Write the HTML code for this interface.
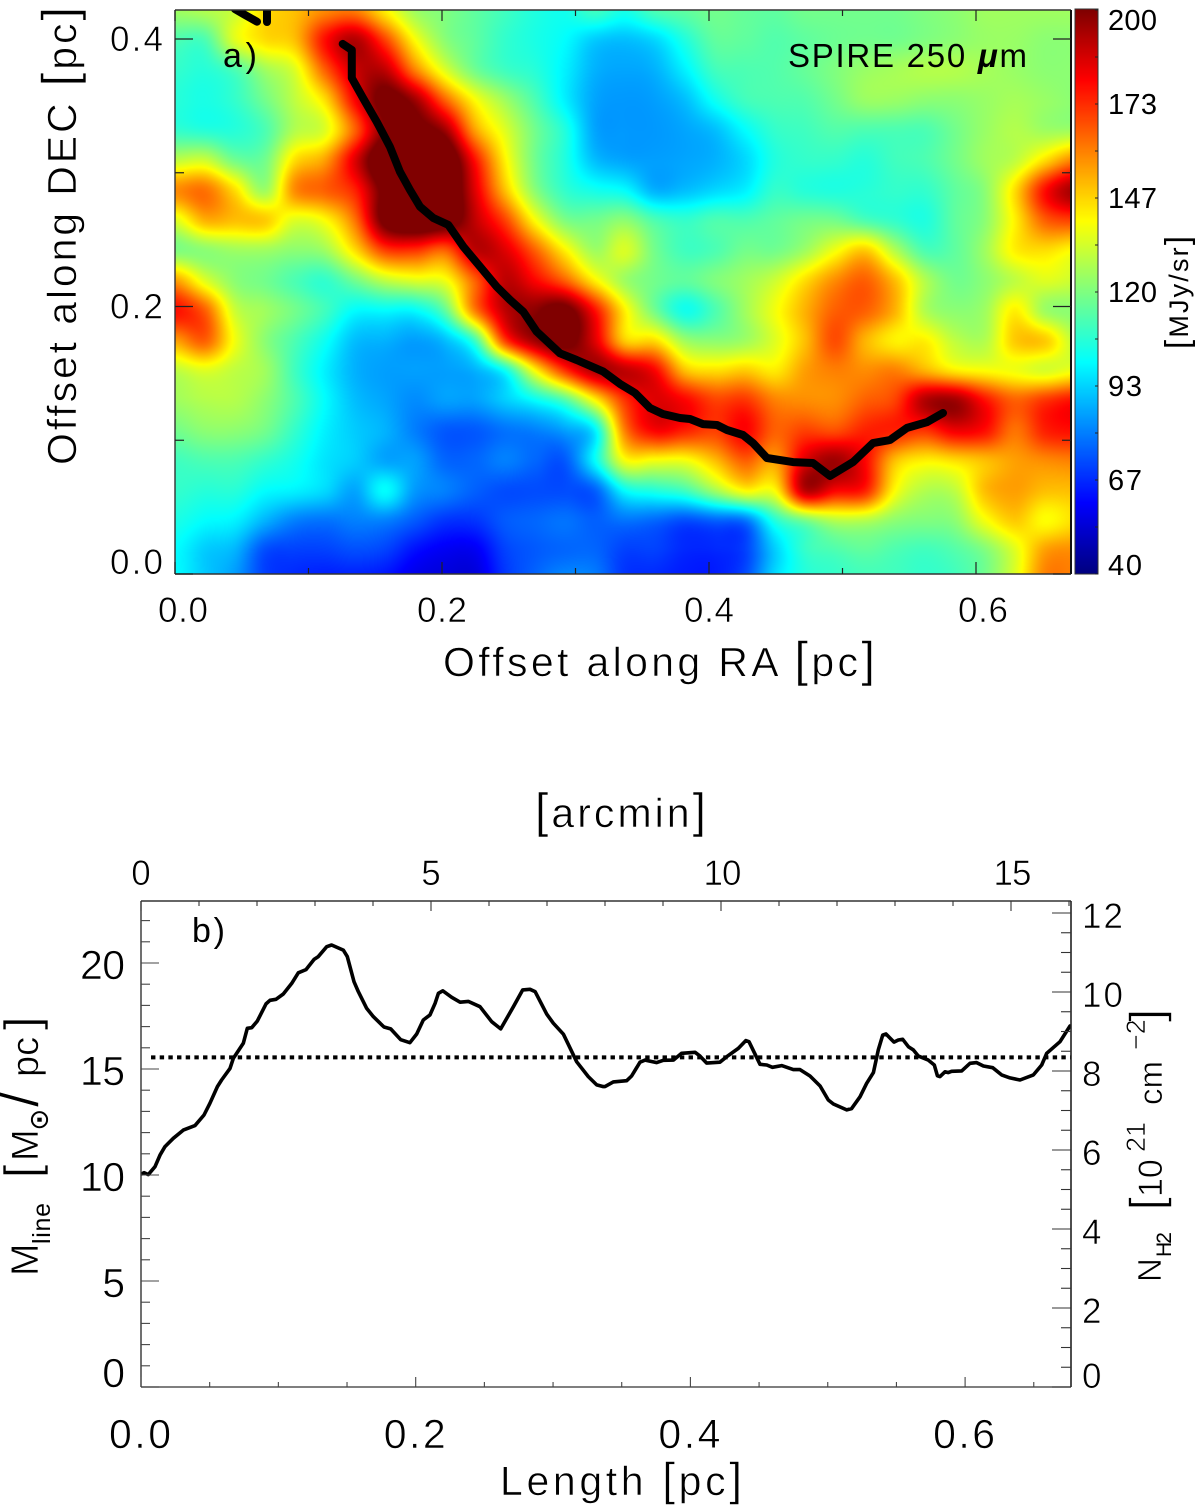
<!DOCTYPE html>
<html lang="en">
<head>
<meta charset="utf-8">
<title>SPIRE 250 micron map and filament line mass profile</title>
<style>
  html,body{margin:0;padding:0;background:#fff;}
  #page{position:relative;width:1200px;height:1509px;overflow:hidden;background:#fff;}
  canvas{position:absolute;display:block;}
  svg{position:absolute;left:0;top:0;}
  text{font-family:"Liberation Sans","DejaVu Sans",sans-serif;fill:#000;}
  .thin{stroke:#fff;stroke-width:.6px;}
</style>
</head>
<body>
<div id="page">
  <canvas id="heat" width="895" height="564" style="left:175px;top:10px"></canvas>
  <canvas id="cbar" width="23" height="565" style="left:1075px;top:9px"></canvas>
  <svg id="chart" width="1200" height="1509" viewBox="0 0 1200 1509" xmlns="http://www.w3.org/2000/svg">
    <defs>
      <clipPath id="clipA"><rect x="175" y="10" width="896" height="564"/></clipPath>
      <clipPath id="clipB"><rect x="141" y="901" width="930" height="486"/></clipPath>
    </defs>
    <g id="layerA"></g>
    <g id="layerB"></g>

    <text class="thin" x="443" y="676" font-size="41" textLength="432" lengthAdjust="spacing">Offset along RA <tspan font-size="49">[</tspan>pc<tspan font-size="49">]</tspan></text>
    <text class="thin" transform="translate(76,465) rotate(-90)" font-size="41" textLength="458" lengthAdjust="spacing">Offset along DEC <tspan font-size="49">[</tspan>pc<tspan font-size="49">]</tspan></text>
    <text x="223" y="67" font-size="34" textLength="34" lengthAdjust="spacing">a)</text>
    <text x="788" y="67" font-size="33" textLength="239" lengthAdjust="spacing">SPIRE 250 <tspan font-weight="bold" font-style="italic">μ</tspan>m</text>
    <text transform="translate(1188,349) rotate(-90)" font-size="27" textLength="113" lengthAdjust="spacing"><tspan font-size="33">[</tspan>MJy/sr<tspan font-size="33">]</tspan></text>

    <text class="thin" x="535" y="827" font-size="41" textLength="171" lengthAdjust="spacing"><tspan font-size="48">[</tspan>arcmin<tspan font-size="48">]</tspan></text>
    <text class="thin" x="500" y="1495" font-size="41" textLength="242" lengthAdjust="spacing">Length <tspan font-size="46">[</tspan>pc<tspan font-size="46">]</tspan></text>
    <text x="192" y="942" font-size="34" textLength="33" lengthAdjust="spacing">b)</text>

    <g>
      <text class="thin" transform="translate(38,1276) rotate(-90)" font-size="39">M</text>
      <text transform="translate(50,1244) rotate(-90)" font-size="25" textLength="41" lengthAdjust="spacing">line</text>
      <text class="thin" transform="translate(38,1178) rotate(-90)" font-size="38"><tspan x="0" font-size="48">[</tspan><tspan x="17">M</tspan><tspan x="47" y="10" font-size="27" font-weight="bold" font-family="DejaVu Sans">⊙</tspan><tspan x="71" y="0" font-size="56">/</tspan><tspan x="101">pc</tspan><tspan x="148" font-size="48">]</tspan></text>
    </g>
    <g>
      <text class="thin" transform="translate(1161,1282) rotate(-90)" font-size="33">N</text>
      <text transform="translate(1171,1257) rotate(-90)" font-size="21" textLength="25" lengthAdjust="spacing">H2</text>
      <text class="thin" transform="translate(1162,1209) rotate(-90)" font-size="34"><tspan x="-1" font-size="46">[</tspan><tspan x="12">10</tspan><tspan x="57" y="-17" font-size="27">21</tspan><tspan x="104" y="0" font-size="33">cm</tspan><tspan x="159" y="-17" font-size="27">−2</tspan><tspan x="187" y="0" font-size="46">]</tspan></text>
    </g>
  </svg>
</div>
<script>
// ---------- Panel a data ----------
const heatStepPc = 0.02247;
const heatTopPc = 0.4217;
const heatValues = [
 [125,128,132,145,150,158,160,142,125,120,115,110,105,103,110,104,112,115,118,116,115,118,118,118,118,120,122,125,125,125,125],
 [112,112,135,145,150,178,192,170,140,122,115,108,104,100,92,90,94,105,115,115,113,115,117,118,118,120,122,124,124,122,122],
 [108,106,112,125,135,165,188,190,160,135,118,110,106,98,88,86,88,98,110,112,113,116,120,124,126,128,128,126,124,122,122],
 [106,104,108,118,130,145,180,205,195,165,140,125,112,98,86,84,85,90,102,110,112,113,118,124,124,122,122,124,126,124,122],
 [108,106,106,112,128,135,165,200,205,195,155,135,118,105,86,84,84,86,90,100,108,110,113,112,112,112,118,124,128,125,125],
 [130,132,118,118,145,155,185,215,215,215,178,142,118,105,90,86,85,86,88,94,105,108,108,106,110,112,118,125,130,145,160],
 [158,162,145,125,158,165,175,205,215,215,185,150,122,108,103,100,88,90,94,98,108,106,105,106,108,108,115,122,145,178,195],
 [135,152,150,148,135,140,162,205,215,210,190,170,140,120,118,122,112,108,112,112,115,118,118,112,108,105,115,122,142,165,170],
 [120,122,125,125,122,125,145,170,172,165,190,185,165,142,125,134,118,110,112,118,118,125,138,148,128,112,115,125,142,145,140],
 [155,135,122,118,112,108,118,130,135,138,165,190,180,165,142,125,118,115,120,125,132,145,158,165,150,128,118,122,130,135,132],
 [178,165,132,125,118,110,100,100,100,115,160,190,198,205,178,142,118,103,112,125,138,152,165,165,152,128,122,125,142,125,122],
 [155,165,138,122,112,102,90,88,85,90,110,170,195,205,185,148,145,125,122,125,135,150,168,152,142,142,130,128,148,148,130],
 [130,135,130,125,110,98,88,85,85,85,88,102,140,172,192,190,180,150,145,148,143,155,160,158,160,152,143,140,138,134,138],
 [125,128,128,122,112,100,90,86,82,85,85,92,100,112,140,172,185,180,170,172,160,158,158,165,170,192,195,178,165,172,178],
 [118,122,122,118,108,98,92,88,80,74,74,78,80,85,98,160,180,175,170,180,165,170,168,175,175,172,182,178,162,175,178],
 [110,112,112,108,103,96,92,86,85,76,76,80,76,74,100,138,138,138,150,165,155,185,195,180,150,142,145,150,155,158,160],
 [108,106,106,100,98,94,86,100,84,80,75,72,72,72,75,100,105,110,125,140,140,190,180,175,140,128,130,150,155,150,150],
 [104,100,98,88,80,78,80,80,74,68,68,74,76,78,75,78,76,72,75,78,105,118,128,128,122,120,122,138,148,140,145],
 [100,92,88,72,70,70,72,70,62,58,58,70,74,76,76,70,70,66,66,70,92,108,112,115,112,110,113,120,135,155,158],
 [100,92,84,70,66,64,64,62,56,54,54,68,76,82,80,68,66,64,64,72,95,105,108,110,110,108,110,118,135,160,160]
];
const ridgeRa = [.1256,.1324,.1324,.1408,.1511,.1610,.1685,.1760,.1835,.1935,.2047,.2160,.2285,.2410,.2509,.2609,.2709,.2884,.3009,.3208,.3333,.3446,.3558,.3655,.3783,.3858,.3955,.4060,.4135,.4255,.4330,.4434,.4629,.4779,.4906,.5079,.5228,.5356,.5483,.5633,.5753];
const ridgeDec = [.3963,.3918,.3708,.3559,.3382,.3195,.3008,.2871,.2746,.2662,.2610,.2447,.2298,.2148,.2049,.1961,.1812,.1650,.1600,.1513,.1421,.1353,.1241,.1196,.1166,.1159,.1121,.1114,.1077,.1039,.0979,.0867,.0837,.0830,.0733,.0837,.0979,.1002,.1092,.1136,.1204];
const fragmentRa = [.0449,.0524,.0614];
const fragmentDec = [.4224,.4180,.4129];
const stubRa = [.0689,.0689];
const stubDec = [.4224,.4127];
const mapXTicks = [0,.1,.2,.3,.4,.5,.6];
const mapXLabels = ["0.0",null,"0.2",null,"0.4",null,"0.6"];
const mapYTicks = [0,.1,.2,.3,.4];
const mapYLabels = ["0.0",null,"0.2",null,"0.4"];
const colorbarTicks = [40,53.33,66.67,80,93.33,106.67,120,133.33,146.67,160,173.33,186.67,200];
const colorbarLabels = ["40",null,"67",null,"93",null,"120",null,"147",null,"173",null,"200"];

// ---------- Panel b data ----------
const lengthPc = [.0005,.0022,.0053,.0102,.0138,.0175,.0235,.0308,.0393,.0459,.0502,.0556,.0587,.0648,.0672,.0745,.0774,.0806,.0847,.0910,.0939,.0983,.1036,.1097,.1145,.1201,.1260,.1291,.1352,.1388,.1473,.1502,.1551,.1582,.1643,.1691,.1769,.1818,.1891,.1958,.2007,.2055,.2104,.2141,.2165,.2197,.2262,.2323,.2383,.2468,.2553,.2619,.2711,.2779,.2832,.2869,.2954,.3002,.3075,.3172,.3257,.3318,.3366,.3378,.3439,.3536,.3572,.3633,.3670,.3755,.3803,.3876,.3936,.4034,.4070,.4119,.4215,.4264,.4349,.4403,.4427,.4507,.4556,.4597,.4665,.4749,.4798,.4871,.4944,.5004,.5041,.5138,.5174,.5235,.5283,.5332,.5368,.5400,.5424,.5482,.5514,.5546,.5587,.5623,.5660,.5732,.5776,.5798,.5817,.5854,.5878,.5902,.5975,.6036,.6084,.6133,.6201,.6266,.6327,.6400,.6497,.6558,.6594,.6691,.6764];
const lineMass = [10.05,10.11,10.02,10.39,10.94,11.34,11.73,12.12,12.33,12.83,13.38,14.17,14.48,15.03,15.50,16.21,16.92,16.95,17.26,18.07,18.24,18.29,18.54,19.04,19.54,19.69,20.17,20.30,20.77,20.85,20.61,20.30,19.12,18.65,17.86,17.47,16.98,16.89,16.38,16.24,16.65,17.31,17.55,18.10,18.57,18.69,18.38,18.15,18.19,17.94,17.23,16.89,17.94,18.73,18.76,18.65,17.59,17.16,16.64,15.34,14.64,14.25,14.17,14.17,14.39,14.45,14.67,15.32,15.42,15.30,15.41,15.42,15.74,15.79,15.61,15.28,15.32,15.58,15.97,16.34,16.29,15.22,15.19,15.08,15.16,14.97,14.97,14.67,14.20,13.54,13.35,13.07,13.13,13.69,14.32,14.83,15.90,16.60,16.65,16.27,16.37,16.40,16.05,15.90,15.61,15.42,15.19,14.68,14.64,14.87,14.83,14.89,14.91,15.27,15.30,15.14,15.06,14.72,14.58,14.48,14.72,15.19,15.74,16.29,17.03];
const meanLineMass = 15.55;
const dottedStartPc = 0.0073;
const dottedEndPc = 0.677;
const lengthTicks = [0,.05,.1,.15,.2,.25,.3,.35,.4,.45,.5,.55,.6,.65];
const lengthLabels = ["0.0",null,null,null,"0.2",null,null,null,"0.4",null,null,null,"0.6",null];
const arcminTicks = [0,1,2,3,4,5,6,7,8,9,10,11,12,13,14,15,16];
const arcminLabels = ["0",null,null,null,null,"5",null,null,null,null,"10",null,null,null,null,"15",null];
const massTicks = [0,1,2,3,4,5,6,7,8,9,10,11,12,13,14,15,16,17,18,19,20,21,22];
const massLabels = {0:"0",5:"5",10:"10",15:"15",20:"20"};
const columnTicks = [0,.5,1,1.5,2,2.5,3,3.5,4,4.5,5,5.5,6,6.5,7,7.5,8,8.5,9,9.5,10,10.5,11,11.5,12];
const columnLabels = {0:"0",2:"2",4:"4",6:"6",8:"8",10:"10",12:"12"};

// ---------- Axis functions ----------
const xA = v => 175 + v * 1335;
const yA = v => 574 - v * 1337.5;
const cbY = v => 574 - (v - 40) / 160 * 564;
const xB = v => 141 + v * 1373.5;
const xTop = v => 141 + v * 58;
const yB = v => 1387 - v * 21.2;
const yR = v => 1387 - v * 39.5;

const NS = "http://www.w3.org/2000/svg";
const layerA = document.getElementById("layerA");
const layerB = document.getElementById("layerB");

function clamp01(v){ return v < 0 ? 0 : v > 1 ? 1 : v; }
function jet(v){
  const t = clamp01((v - 40) / 160);
  return [
    255 * clamp01(1.5 - Math.abs(4 * t - 3)),
    255 * clamp01(1.5 - Math.abs(4 * t - 2)),
    255 * clamp01(1.5 - Math.abs(4 * t - 1))
  ];
}
function cubic(a, b, c, d, t){
  return b + 0.5 * t * (c - a + t * (2 * a - 5 * b + 4 * c - d + t * (3 * (b - c) + d - a)));
}
function heatAt(px, py){
  const rows = heatValues.length, cols = heatValues[0].length;
  const u = ((px - 175) / 1335) / heatStepPc;
  const v = (heatTopPc - (574 - py) / 1337.5) / heatStepPc;
  const i = Math.max(0, Math.min(cols - 1, Math.floor(u)));
  const j = Math.max(0, Math.min(rows - 1, Math.floor(v)));
  const fu = u - i, fv = v - j;
  const col = [];
  for (let m = -1; m <= 2; m++) {
    const r = heatValues[Math.max(0, Math.min(rows - 1, j + m))];
    col.push(cubic(
      r[Math.max(0, i - 1)], r[i],
      r[Math.min(cols - 1, i + 1)], r[Math.min(cols - 1, i + 2)], fu));
  }
  return cubic(col[0], col[1], col[2], col[3], fv);
}

// Heatmap
(function(){
  const c = document.getElementById("heat"), g = c.getContext("2d");
  const img = g.createImageData(c.width, c.height);
  let k = 0;
  for (let y = 0; y < c.height; y++) {
    for (let x = 0; x < c.width; x++) {
      const col = jet(heatAt(175 + x + .5, 10 + y + .5));
      img.data[k++] = col[0]; img.data[k++] = col[1]; img.data[k++] = col[2]; img.data[k++] = 255;
    }
  }
  g.putImageData(img, 0, 0);
})();

// Colorbar
(function(){
  const c = document.getElementById("cbar"), g = c.getContext("2d");
  for (let y = 0; y < c.height; y++) {
    const col = jet(40 + (c.height - 1 - y) / (c.height - 1) * 160);
    g.fillStyle = "rgb(" + col.map(Math.round).join(",") + ")";
    g.fillRect(0, y, c.width, 1);
  }
})();

function seg(parent, name, x1, y1, x2, y2, color, width){
  const el = document.createElementNS(NS, "line");
  el.setAttribute("x1", x1); el.setAttribute("y1", y1);
  el.setAttribute("x2", x2); el.setAttribute("y2", y2);
  el.setAttribute("stroke", color);
  el.setAttribute("stroke-width", width);
  
  
  parent.appendChild(el);
  return el;
}
function label(parent, name, str, x, y, size, anchor, len, thin){
  const el = document.createElementNS(NS, "text");
  el.setAttribute("x", x); el.setAttribute("y", y);
  el.setAttribute("font-size", size);
  el.setAttribute("text-anchor", anchor);
  if (len) { el.setAttribute("textLength", len); el.setAttribute("lengthAdjust", "spacing"); }
  if (thin) el.setAttribute("class", "thin");
  
  
  el.textContent = str;
  parent.appendChild(el);
  return el;
}
function polyline(parent, name, xs, ys, fx, fy, width, clip){
  const el = document.createElementNS(NS, "path");
  el.setAttribute("d", xs.map((v, i) => (i ? "L" : "M") + fx(v).toFixed(1) + " " + fy(ys[i]).toFixed(1)).join(""));
  el.setAttribute("fill", "none");
  el.setAttribute("stroke", "#000");
  el.setAttribute("stroke-width", width);
  el.setAttribute("stroke-linejoin", "round");
  el.setAttribute("stroke-linecap", "round");
  el.setAttribute("clip-path", clip);
  
  
  parent.appendChild(el);
  return el;
}

// ---------- Panel a ----------
polyline(layerA, "filament-ridge", ridgeRa, ridgeDec, xA, yA, 8, "url(#clipA)");
polyline(layerA, "ridge-fragment-left", fragmentRa, fragmentDec, xA, yA, 8, "url(#clipA)");
polyline(layerA, "ridge-fragment-right", stubRa, stubDec, xA, yA, 8, "url(#clipA)");

seg(layerA, "map-frame-top", 175, 10, 1071, 10, "#333", 1.4);
seg(layerA, "map-frame-bottom", 175, 574, 1071, 574, "#333", 1.4);
seg(layerA, "map-frame-left", 175, 10, 175, 574, "#333", 1.4);
seg(layerA, "map-frame-right", 1071, 10, 1071, 574, "#111", 2);

mapXTicks.forEach((v, i) => {
  const major = mapXLabels[i] !== null;
  const x = xA(v);
  seg(layerA, "map-x-tick-bottom", x, 574, x, 574 - (major ? 12 : 6), "#222", 1.2);
  seg(layerA, "map-x-tick-top", x, 10, x, 10 + (major ? 11 : 6), "#222", 1.2);
  if (major) {
    const cx = v === 0 ? x + 8 : v > .5 ? x + 7 : x;
    label(layerA, "map-x-tick-label", mapXLabels[i], cx, 622, 35, "middle", 50, true);
  }
});
mapYTicks.forEach((v, i) => {
  const major = mapYLabels[i] !== null;
  const y = yA(v);
  seg(layerA, "map-y-tick-left", 175, y, 175 + (major ? 18 : 9), y, "#222", 1.2);
  seg(layerA, "map-y-tick-right", 1071, y, 1071 - (major ? 18 : 9), y, "#222", 1.2);
  if (major) label(layerA, "map-y-tick-label", mapYLabels[i], 163, Math.min(y + 12, 574), 35, "end", 53, true);
});

// Colorbar frame and ticks
const cbFrame = document.createElementNS(NS, "rect");
cbFrame.setAttribute("x", 1075);
cbFrame.setAttribute("y", 9);
cbFrame.setAttribute("width", 23);
cbFrame.setAttribute("height", 565);
cbFrame.setAttribute("fill", "none");
cbFrame.setAttribute("stroke", "#333");
cbFrame.setAttribute("stroke-width", "1");


layerA.appendChild(cbFrame);
colorbarTicks.forEach((v, i) => {
  const y = cbY(v);
  seg(layerA, "colorbar-tick", 1098, y, 1095, y, "#222", 1);
  if (colorbarLabels[i] !== null) {
    const s = colorbarLabels[i];
    const base = Math.min(Math.max(y + 10, 30), 575);
    label(layerA, "colorbar-tick-label", s, 1108, base, 29, "start", s.length === 3 ? 49 : 34, false);
  }
});

// ---------- Panel b ----------
polyline(layerB, "line-mass-profile", lengthPc, lineMass, xB, yB, 3.6, "url(#clipB)");
const meanLine = seg(layerB, "mean-line-mass-dotted", xB(dottedStartPc), yB(meanLineMass), xB(dottedEndPc), yB(meanLineMass), "#000", 4);
meanLine.setAttribute("stroke-dasharray", "4.4 4.27");

seg(layerB, "profile-frame-top", 141, 901, 1071, 901, "#333", 1.4);
seg(layerB, "profile-frame-bottom", 141, 1387, 1071, 1387, "#555", 1.4);
seg(layerB, "profile-frame-left", 141, 901, 141, 1387, "#333", 1.4);
seg(layerB, "profile-frame-right", 1071, 901, 1071, 1387, "#222", 1.6);

lengthTicks.forEach((v, i) => {
  const major = lengthLabels[i] !== null;
  const x = xB(v);
  seg(layerB, "length-tick", x, 1387, x, 1387 - (major ? 10 : 5), "#444", 1.1);
  if (major) label(layerB, "length-tick-label", lengthLabels[i], x - 1, 1448, 41, "middle", 62, true);
});
arcminTicks.forEach((v, i) => {
  const major = arcminLabels[i] !== null;
  const x = xTop(v);
  seg(layerB, "arcmin-tick", x, 901, x, 901 + (major ? 10 : 5), "#333", 1.1);
  if (major) {
    const s = arcminLabels[i];
    label(layerB, "arcmin-tick-label", s, x + (s.length > 1 ? 1.5 : 0), 885, 35, "middle", s.length > 1 ? 38 : 18, true);
  }
});
massTicks.forEach(v => {
  const s = massLabels[v];
  const y = yB(v);
  seg(layerB, "mass-tick", 141, y, 141 + (s ? 18 : 9), y, "#444", 1.1);
  if (s) label(layerB, "mass-tick-label", s, 125, Math.min(y + 16, 1387), 41, "end", s.length > 1 ? 45 : 22, true);
});
columnTicks.forEach(v => {
  const s = columnLabels[v];
  const y = yR(v);
  seg(layerB, "column-density-tick", 1071, y, 1071 - (s ? 19 : 10), y, "#333", 1.1);
  if (s) label(layerB, "column-density-tick-label", s, 1082, Math.min(y + 15, 1388), 35, "start", s.length > 1 ? 41 : 19, true);
});
</script>
</body>
</html>
